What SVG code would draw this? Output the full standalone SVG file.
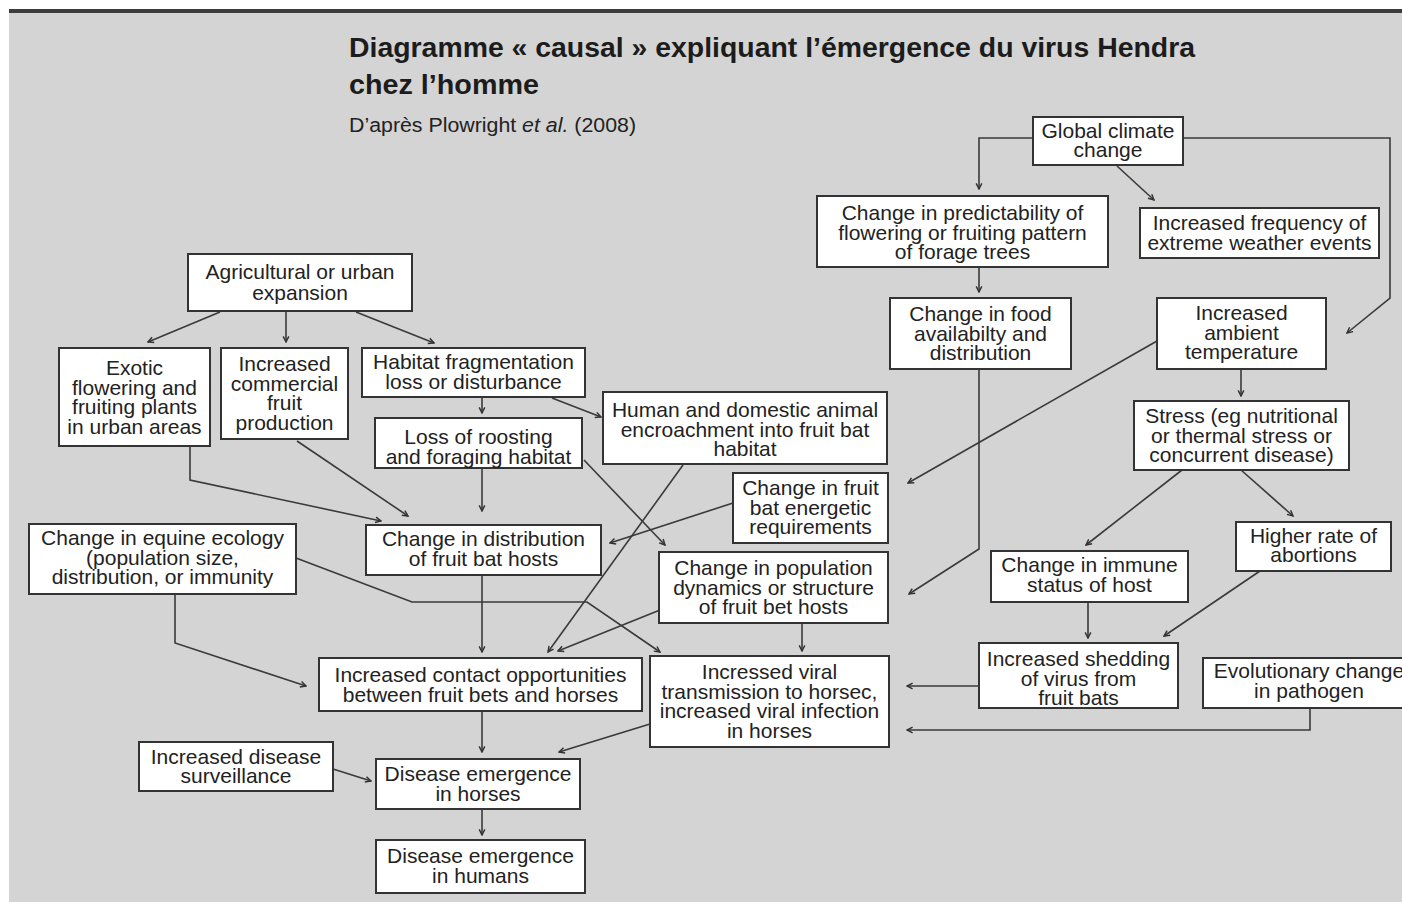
<svg xmlns="http://www.w3.org/2000/svg" width="1402" height="902" viewBox="0 0 1402 902">
<style>
.bx{fill:#fff;stroke:#333;stroke-width:2}
.t{font-family:"Liberation Sans",Arial,sans-serif;font-size:21px;fill:#222;text-anchor:middle}
.c{fill:none;stroke:#3a3a3a;stroke-width:1.6;marker-end:url(#ah)}
.ttl{font-family:"Liberation Sans",Arial,sans-serif;font-weight:bold;font-size:28px;fill:#1c1c1c}
.sub{font-family:"Liberation Sans",Arial,sans-serif;font-size:20px;fill:#222}
</style>
<defs>
<marker id="ah" viewBox="0 0 10 10" refX="9" refY="5" markerWidth="8" markerHeight="8" markerUnits="userSpaceOnUse" orient="auto">
<path d="M2,1.5 L9,5 L2,8.5" fill="none" stroke="#333" stroke-width="1.8"/>
</marker>
</defs>
<rect x="0" y="0" width="1402" height="902" fill="#fff"/>
<rect x="9" y="9" width="1393" height="893" fill="#d4d4d4"/>
<rect x="9" y="9" width="1393" height="4" fill="#3c3c3c"/>
<g id="title">
<text class="ttl" x="349" y="57" textLength="846" lengthAdjust="spacingAndGlyphs">Diagramme « causal » expliquant l’émergence du virus Hendra</text>
<text class="ttl" x="349" y="94" textLength="190" lengthAdjust="spacingAndGlyphs">chez l’homme</text>
<text class="sub" x="349" y="132" textLength="287" lengthAdjust="spacingAndGlyphs">D’après Plowright <tspan font-style="italic">et al.</tspan> (2008)</text>
</g>
<g id="connectors">
<path class="c" d="M1033,138 H979 V189"/>
<path class="c" d="M1117,166 L1154,200"/>
<path class="c" d="M1183,138 H1390 V298 L1347,333"/>
<path class="c" d="M979,267 V292"/>
<path class="c" d="M220,312 L148,342"/>
<path class="c" d="M286,312 V342"/>
<path class="c" d="M356,312 L434,343"/>
<path class="c" d="M482,397 V413"/>
<path class="c" d="M552,398 L601,417"/>
<path class="c" d="M190,446 V480 L381,521"/>
<path class="c" d="M297,441 L408,516"/>
<path class="c" d="M482,468 V511"/>
<path class="c" d="M584,460 L665,545"/>
<path class="c" d="M683,465 L548,652"/>
<path class="c" d="M733,503 L610,543"/>
<path class="c" d="M1157,341 L908,483"/>
<path class="c" d="M979,369 V549 L909,594"/>
<path class="c" d="M1241,369 V396"/>
<path class="c" d="M1182,470 L1086,545"/>
<path class="c" d="M1241,470 L1293,516"/>
<path class="c" d="M175,594 V643 L306,686"/>
<path class="c" d="M296,558 L412,602 H587 L660,652"/>
<path class="c" d="M482,575 V652"/>
<path class="c" d="M660,610 L558,651"/>
<path class="c" d="M802,623 V651"/>
<path class="c" d="M1088,602 V638"/>
<path class="c" d="M1260,571 L1164,636"/>
<path class="c" d="M979,686 H907"/>
<path class="c" d="M1310,708 V730 H907"/>
<path class="c" d="M482,711 V752"/>
<path class="c" d="M650,724 L559,752"/>
<path class="c" d="M333,769 L371,781"/>
<path class="c" d="M482,809 V835"/>
</g>
<g id="n-global"><rect class="bx" x="1033" y="117" width="150" height="48"/><text class="t" x="1108" y="138">Global climate</text><text class="t" x="1108" y="157">change</text></g>
<g id="n-predict"><rect class="bx" x="817" y="196" width="291" height="71"/><text class="t" x="962.5" y="220">Change in predictability of</text><text class="t" x="962.5" y="239.5">flowering or fruiting pattern</text><text class="t" x="962.5" y="259">of forage trees</text></g>
<g id="n-weather"><rect class="bx" x="1140" y="208" width="239" height="50"/><text class="t" x="1259.5" y="230">Increased frequency of</text><text class="t" x="1259.5" y="249.5">extreme weather events</text></g>
<g id="n-agri"><rect class="bx" x="188" y="254" width="224" height="57"/><text class="t" x="300" y="279">Agricultural or urban</text><text class="t" x="300" y="299.5">expansion</text></g>
<g id="n-food"><rect class="bx" x="890" y="298" width="181" height="71"/><text class="t" x="980.5" y="321">Change in food</text><text class="t" x="980.5" y="340.5">availabilty and</text><text class="t" x="980.5" y="360">distribution</text></g>
<g id="n-ambient"><rect class="bx" x="1157" y="298" width="169" height="71"/><text class="t" x="1241.5" y="320">Increased</text><text class="t" x="1241.5" y="339.5">ambient</text><text class="t" x="1241.5" y="359">temperature</text></g>
<g id="n-exotic"><rect class="bx" x="59" y="348" width="151" height="98"/><text class="t" x="134.5" y="375">Exotic</text><text class="t" x="134.5" y="394.5">flowering and</text><text class="t" x="134.5" y="414">fruiting plants</text><text class="t" x="134.5" y="433.5">in urban areas</text></g>
<g id="n-commercial"><rect class="bx" x="221" y="348" width="127" height="91"/><text class="t" x="284.5" y="371">Increased</text><text class="t" x="284.5" y="390.5">commercial</text><text class="t" x="284.5" y="410">fruit</text><text class="t" x="284.5" y="429.5">production</text></g>
<g id="n-habitat"><rect class="bx" x="362" y="348" width="223" height="49"/><text class="t" x="473.5" y="369">Habitat fragmentation</text><text class="t" x="473.5" y="388.5">loss or disturbance</text></g>
<g id="n-human"><rect class="bx" x="603" y="392" width="284" height="72"/><text class="t" x="745" y="417">Human and domestic animal</text><text class="t" x="745" y="436.5">encroachment into fruit bat</text><text class="t" x="745" y="456">habitat</text></g>
<g id="n-roost"><rect class="bx" x="375" y="418" width="207" height="50"/><text class="t" x="478.5" y="444">Loss of roosting</text><text class="t" x="478.5" y="463.5">and foraging habitat</text></g>
<g id="n-stress"><rect class="bx" x="1134" y="401" width="215" height="69"/><text class="t" x="1241.5" y="423">Stress (eg nutritional</text><text class="t" x="1241.5" y="442.5">or thermal stress or</text><text class="t" x="1241.5" y="462">concurrent disease)</text></g>
<g id="n-energetic"><rect class="bx" x="733" y="473" width="155" height="70"/><text class="t" x="810.5" y="495">Change in fruit</text><text class="t" x="810.5" y="514.5">bat energetic</text><text class="t" x="810.5" y="534">requirements</text></g>
<g id="n-equine"><rect class="bx" x="29" y="524" width="267" height="70"/><text class="t" x="162.5" y="545">Change in equine ecology</text><text class="t" x="162.5" y="564.5">(population size,</text><text class="t" x="162.5" y="584">distribution, or immunity</text></g>
<g id="n-distrib"><rect class="bx" x="366" y="525" width="235" height="50"/><text class="t" x="483.5" y="546">Change in distribution</text><text class="t" x="483.5" y="565.5">of fruit bat hosts</text></g>
<g id="n-abort"><rect class="bx" x="1236" y="522" width="155" height="49"/><text class="t" x="1313.5" y="543">Higher rate of</text><text class="t" x="1313.5" y="562">abortions</text></g>
<g id="n-popdyn"><rect class="bx" x="659" y="552" width="229" height="71"/><text class="t" x="773.5" y="575">Change in population</text><text class="t" x="773.5" y="594.5">dynamics or structure</text><text class="t" x="773.5" y="614">of fruit bet hosts</text></g>
<g id="n-immune"><rect class="bx" x="991" y="551" width="197" height="51"/><text class="t" x="1089.5" y="572">Change in immune</text><text class="t" x="1089.5" y="591.5">status of host</text></g>
<g id="n-contact"><rect class="bx" x="319" y="658" width="323" height="53"/><text class="t" x="480.5" y="682">Increased contact opportunities</text><text class="t" x="480.5" y="701.5">between fruit bets and horses</text></g>
<g id="n-viral"><rect class="bx" x="650" y="656" width="239" height="91"/><text class="t" x="769.5" y="679">Incressed viral</text><text class="t" x="769.5" y="698.5">transmission to horsec,</text><text class="t" x="769.5" y="718">increased viral infection</text><text class="t" x="769.5" y="737.5">in horses</text></g>
<g id="n-shedding"><rect class="bx" x="979" y="643" width="199" height="65"/><text class="t" x="1078.5" y="666">Increased shedding</text><text class="t" x="1078.5" y="685.5">of virus from</text><text class="t" x="1078.5" y="705">fruit bats</text></g>
<g id="n-evol"><rect class="bx" x="1203" y="658" width="212" height="50"/><text class="t" x="1309" y="678">Evolutionary change</text><text class="t" x="1309" y="697.5">in pathogen</text></g>
<g id="n-surv"><rect class="bx" x="139" y="742" width="194" height="49"/><text class="t" x="236" y="764">Increased disease</text><text class="t" x="236" y="783">surveillance</text></g>
<g id="n-horses"><rect class="bx" x="376" y="759" width="204" height="50"/><text class="t" x="478" y="781">Disease emergence</text><text class="t" x="478" y="800.5">in horses</text></g>
<g id="n-humans"><rect class="bx" x="376" y="840" width="209" height="53"/><text class="t" x="480.5" y="863">Disease emergence</text><text class="t" x="480.5" y="882.5">in humans</text></g>
</svg>
